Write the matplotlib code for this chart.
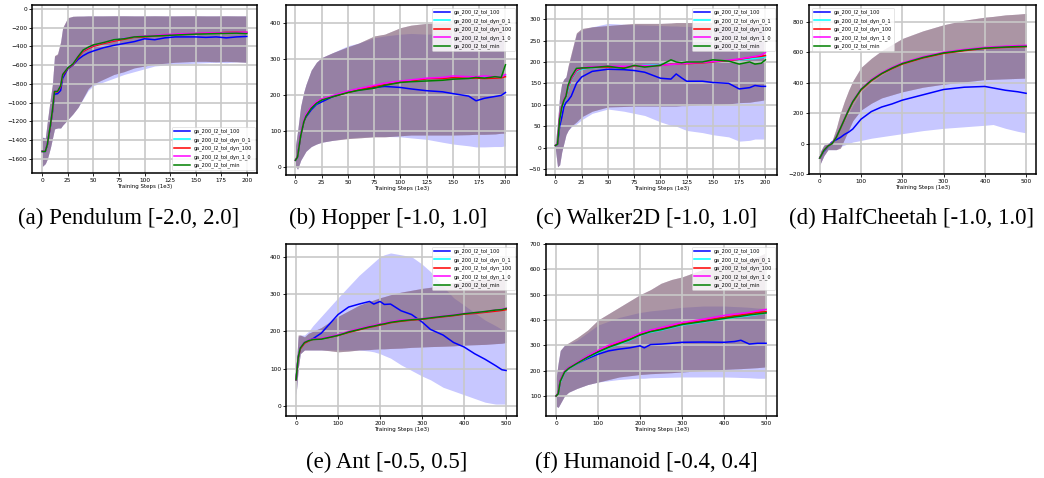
"""
Reward curves for six control tasks: GA runs with different l2 tolerance schedules.
Mean return per run with a shaded +/- band, one panel per environment.
"""

import matplotlib
matplotlib.use("Agg")
import matplotlib.pyplot as plt
import numpy as np

OUT_FILE = "out.png"

LABELS = ["ga_200_l2_tol_100", "ga_200_l2_tol_dyn_0_1", "ga_200_l2_tol_dyn_100",
          "ga_200_l2_tol_dyn_1_0", "ga_200_l2_tol_min"]
COLORS = ["#0000ff", "#00ffff", "#ff0000", "#ff00ff", "#008000"]

# ---------------------------------------------------------------------------
# Data
# ---------------------------------------------------------------------------

# (a) Pendulum
pend_x = [0, 3, 5, 8, 10, 12, 15, 18, 20, 25, 30, 35, 40, 45, 50, 60, 70, 80, 90, 100,
          110, 120, 130, 140, 150, 160, 170, 180, 190, 200]
pend_tol100 = [-1520, -1520, -1450, -1250, -1100, -910, -905, -870, -740, -640, -600, -540, -500, -470, -450,
               -415, -390, -370, -350, -320, -330, -310, -300, -300, -300, -305, -300, -310, -300, -295]
pend_dyn01 = [-1520, -1515, -1440, -1240, -1080, -880, -880, -820, -700, -630, -590, -510, -450, -420, -395,
              -365, -335, -315, -305, -295, -290, -280, -275, -270, -265, -265, -260, -255, -255, -255]
pend_dyn100 = [-1520, -1518, -1445, -1245, -1090, -885, -885, -830, -710, -635, -595, -520, -455, -425, -400,
               -370, -345, -325, -305, -300, -290, -285, -275, -272, -265, -262, -258, -252, -250, -252]
pend_dyn10 = [-1520, -1515, -1440, -1240, -1085, -875, -880, -815, -695, -630, -590, -505, -445, -415, -390,
              -360, -335, -315, -300, -290, -285, -275, -270, -265, -262, -258, -258, -255, -252, -250]
pend_min = [-1520, -1520, -1445, -1240, -1080, -880, -880, -820, -700, -630, -588, -510, -440, -410, -385,
            -360, -330, -320, -300, -295, -290, -285, -280, -275, -270, -268, -265, -262, -260, -265]
pend_dyn_hi = [-1370, -1380, -1200, -950, -800, -500, -480, -350, -200, -95, -80, -78, -78, -76, -76,
               -76, -75, -75, -76, -76, -75, -76, -76, -75, -75, -76, -76, -75, -76, -76]
pend_dyn_lo = [-1680, -1650, -1600, -1480, -1380, -1280, -1270, -1270, -1240, -1180, -1120, -1050, -950, -850, -800,
               -750, -700, -670, -630, -610, -590, -580, -570, -565, -560, -560, -565, -560, -565, -570]
pend_tol100_hi = [-1365, -1375, -1210, -960, -810, -510, -490, -360, -210, -100, -82, -80, -79, -77, -77,
                  -77, -76, -76, -77, -77, -76, -77, -77, -76, -76, -77, -77, -76, -77, -77]
pend_tol100_lo = [-1680, -1650, -1600, -1480, -1380, -1280, -1270, -1270, -1240, -1180, -1120, -1050, -960, -870, -820,
                  -780, -740, -700, -670, -640, -610, -600, -590, -585, -580, -575, -570, -575, -565, -570]

# (b) Hopper
hop_x = [0, 2, 5, 8, 10, 15, 20, 25, 35, 50, 60, 75, 85, 100, 110, 125, 140, 150, 165, 172,
         180, 190, 196, 200]
hop_tol100 = [20, 30, 90, 128, 140, 160, 175, 182, 196, 210, 215, 222, 225, 222, 218, 213, 210, 205, 198, 185,
              192, 197, 200, 208]
hop_dyn01 = [20, 30, 92, 130, 145, 165, 178, 188, 198, 210, 218, 226, 232, 238, 241, 245, 248, 248, 250, 250,
             251, 250, 250, 255]
hop_dyn100 = [20, 31, 90, 128, 143, 166, 180, 189, 197, 208, 216, 225, 230, 237, 240, 246, 247, 249, 248, 248,
              247, 248, 249, 252]
hop_dyn10 = [20, 30, 93, 132, 147, 168, 182, 190, 199, 212, 219, 228, 234, 240, 243, 248, 250, 254, 252, 252,
             254, 252, 251, 258]
hop_min = [20, 29, 88, 127, 142, 164, 178, 187, 196, 208, 214, 220, 228, 236, 238, 240, 242, 245, 247, 250,
           248, 252, 250, 285]
hop_dyn_hi = [60, 100, 170, 210, 230, 270, 292, 305, 318, 335, 345, 365, 370, 388, 395, 400, 402, 410, 412, 410,
              408, 410, 412, 412]
hop_dyn_lo = [5, -5, 20, 35, 45, 58, 65, 70, 75, 80, 82, 85, 85, 88, 90, 90, 90, 90, 91, 92,
              92, 93, 95, 95]
hop_tol100_hi = [60, 100, 170, 210, 230, 270, 292, 305, 318, 338, 345, 360, 365, 370, 372, 370, 372, 375, 370, 365,
                 360, 358, 360, 360]
hop_tol100_lo = [5, -5, 20, 35, 45, 58, 65, 70, 75, 82, 84, 86, 86, 85, 82, 78, 70, 65, 60, 57,
                 57, 58, 58, 60]

# (c) Walker2D
walk_x = [0, 2, 4, 6, 8, 10, 12, 15, 20, 25, 35, 50, 65, 75, 85, 100, 110, 115, 120, 125,
          140, 150, 165, 175, 185, 190, 196, 200]
walk_tol100 = [5, 8, 50, 70, 95, 105, 110, 120, 150, 165, 178, 183, 182, 180, 176, 162, 160, 172, 163, 155,
               155, 152, 150, 137, 140, 145, 143, 143]
walk_dyn01 = [5, 10, 65, 92, 108, 118, 135, 158, 178, 183, 187, 188, 189, 190, 192, 194, 195, 196, 196, 197,
              199, 200, 203, 205, 207, 208, 210, 212]
walk_dyn100 = [5, 9, 68, 95, 110, 120, 140, 160, 180, 185, 188, 188, 188, 190, 190, 192, 195, 195, 196, 196,
               198, 200, 203, 206, 210, 212, 213, 215]
walk_dyn10 = [5, 10, 70, 96, 112, 122, 142, 162, 182, 186, 189, 190, 190, 191, 191, 192, 194, 195, 196, 197,
              199, 201, 204, 207, 211, 213, 216, 222]
walk_min = [5, 8, 66, 94, 110, 120, 145, 165, 185, 186, 187, 190, 185, 192, 188, 192, 205, 200, 198, 200,
            200, 205, 202, 195, 200, 195, 197, 205]
walk_dyn_hi = [10, 60, 120, 150, 160, 165, 190, 220, 268, 278, 282, 285, 288, 290, 290, 290, 291, 292, 292, 292,
               292, 292, 291, 290, 290, 290, 290, 290]
walk_dyn_lo = [-5, -45, -40, -10, 10, 30, 40, 50, 60, 72, 85, 95, 96, 97, 97, 97, 97, 97, 98, 98,
               100, 100, 102, 105, 106, 108, 110, 112]
walk_tol100_hi = [10, 60, 120, 150, 160, 165, 185, 215, 265, 275, 282, 290, 288, 287, 286, 285, 284, 284, 283, 283,
                  283, 282, 282, 281, 281, 280, 280, 280]
walk_tol100_lo = [-5, -45, -40, -10, 10, 30, 40, 48, 55, 65, 80, 90, 85, 80, 75, 60, 52, 50, 45, 40,
                  35, 30, 25, 15, 17, 20, 20, 20]

# (d) HalfCheetah
hc_x = [0, 10, 20, 30, 40, 50, 60, 70, 80, 100, 125, 150, 175, 200, 250, 300, 350, 400, 420, 450, 480, 500]
hc_tol100 = [-95, -50, -20, 10, 25, 40, 60, 75, 95, 160, 210, 240, 260, 285, 320, 355, 370, 375, 365, 350, 340, 330]
hc_dyn01 = [-95, -45, -15, 0, 40, 100, 160, 220, 275, 355, 415, 460, 495, 525, 565, 595, 613, 627, 630, 635, 638, 640]
hc_dyn100 = [-95, -45, -15, 0, 40, 98, 158, 218, 272, 352, 412, 458, 492, 522, 562, 592, 610, 625, 628, 632, 635, 637]
hc_dyn10 = [-95, -45, -15, 2, 42, 102, 163, 223, 278, 358, 420, 465, 500, 530, 570, 600, 618, 632, 635, 640, 643, 645]
hc_min = [-95, -45, -16, 0, 40, 100, 160, 220, 275, 355, 415, 460, 495, 525, 565, 595, 613, 627, 630, 634, 637, 638]
hc_dyn_hi = [-60, -10, 0, 20, 100, 200, 280, 350, 410, 500, 560, 610, 650, 690, 740, 780, 810, 830, 835, 845, 850, 855]
hc_dyn_lo = [-140, -80, -40, -40, -40, -30, 30, 90, 150, 220, 265, 300, 320, 340, 370, 390, 405, 420, 422, 425, 428, 430]
hc_tol100_hi = [-60, -10, 0, 20, 70, 110, 150, 200, 250, 340, 400, 450, 490, 520, 560, 590, 610, 625, 628, 632, 635, 638]
hc_tol100_lo = [-140, -80, -40, -40, -40, -20, -10, 0, 10, 20, 35, 45, 55, 65, 85, 100, 110, 120, 125, 100, 80, 70]

# (e) Ant
ant_x = [0, 5, 10, 20, 30, 40, 60, 80, 100, 125, 150, 175, 185, 200, 210, 225, 250, 275, 300, 320,
         350, 375, 400, 425, 450, 475, 490, 500]
ant_tol100 = [70, 130, 155, 170, 175, 180, 195, 220, 245, 265, 273, 280, 273, 280, 272, 273, 255, 245, 225, 205,
              190, 170, 158, 140, 125, 108, 97, 95]
ant_dyn01 = [70, 130, 155, 170, 175, 178, 180, 185, 190, 198, 205, 212, 214, 218, 220, 224, 228, 231, 233, 235,
             240, 243, 247, 249, 252, 256, 258, 260]
ant_dyn100 = [70, 128, 153, 168, 174, 178, 180, 184, 189, 197, 204, 211, 213, 217, 219, 223, 227, 230, 232, 235,
              239, 242, 246, 248, 251, 254, 256, 258]
ant_dyn10 = [70, 132, 156, 171, 176, 179, 181, 186, 191, 200, 207, 214, 216, 220, 222, 226, 230, 232, 234, 237,
             241, 244, 248, 250, 253, 257, 259, 262]
ant_min = [70, 130, 155, 170, 175, 178, 179, 184, 189, 198, 205, 212, 214, 218, 220, 224, 228, 231, 233, 236,
           240, 243, 247, 250, 253, 257, 258, 261]
ant_dyn_hi = [100, 190, 190, 185, 195, 200, 210, 225, 240, 255, 270, 280, 284, 290, 293, 298, 305, 310, 315, 318,
              325, 330, 335, 337, 340, 342, 344, 345]
ant_dyn_lo = [30, 100, 140, 150, 150, 150, 150, 148, 145, 147, 150, 151, 152, 153, 153, 154, 155, 157, 158, 159,
              160, 161, 163, 164, 165, 167, 168, 170]
ant_tol100_hi = [100, 185, 190, 190, 200, 215, 240, 265, 290, 320, 350, 375, 385, 400, 405, 410, 405, 400, 380, 360,
                 320, 290, 270, 250, 230, 215, 205, 200]
ant_tol100_lo = [30, 100, 140, 150, 150, 150, 150, 150, 150, 150, 150, 147, 145, 140, 135, 128, 110, 95, 80, 70,
                 50, 40, 30, 20, 10, 5, 5, 5]

# (f) Humanoid
hum_x = [0, 5, 10, 20, 30, 50, 75, 100, 125, 150, 175, 200, 210, 225, 250, 275, 300, 350, 400, 425,
         440, 460, 480, 500]
hum_tol100 = [100, 110, 160, 195, 210, 228, 248, 265, 278, 285, 290, 298, 290, 303, 305, 308, 312, 313, 312, 315,
              320, 305, 308, 308]
hum_dyn01 = [100, 108, 155, 192, 208, 228, 252, 272, 290, 305, 320, 340, 345, 352, 360, 370, 380, 392, 405, 410,
             413, 417, 422, 428]
hum_dyn100 = [100, 110, 160, 195, 210, 230, 255, 276, 295, 310, 325, 343, 348, 357, 365, 375, 385, 398, 410, 417,
              420, 425, 430, 433]
hum_dyn10 = [100, 112, 162, 197, 212, 232, 258, 280, 300, 315, 330, 348, 353, 360, 370, 380, 390, 403, 418, 423,
             426, 430, 436, 442]
hum_min = [100, 109, 158, 194, 209, 229, 253, 274, 292, 307, 322, 341, 346, 354, 362, 372, 382, 394, 406, 412,
           415, 420, 424, 428]
hum_dyn_hi = [170, 230, 280, 300, 310, 330, 360, 400, 425, 450, 475, 500, 508, 520, 545, 560, 570, 600, 620, 628,
              633, 640, 650, 665]
hum_dyn_lo = [60, 55, 70, 100, 115, 130, 145, 155, 165, 175, 180, 185, 186, 188, 190, 192, 195, 200, 205, 207,
              208, 210, 212, 215]
hum_tol100_hi = [170, 230, 280, 300, 305, 320, 350, 380, 395, 410, 420, 430, 432, 436, 440, 445, 450, 455, 455, 453,
                 452, 450, 447, 445]
hum_tol100_lo = [60, 55, 70, 100, 115, 130, 145, 155, 160, 165, 168, 170, 170, 172, 173, 174, 175, 175, 175, 174,
                 173, 172, 170, 170]

# ---------------------------------------------------------------------------
# Panel layout (pixel boxes on a 1044x478 canvas: left, top, right, bottom)
# ---------------------------------------------------------------------------

FIG_W, FIG_H = 1044, 478

PANELS = [
    dict(box=(32, 5, 257, 173), caption="(a) Pendulum [-2.0, 2.0]", cap_xy=(129, 218),
         x=pend_x, means=[pend_tol100, pend_dyn01, pend_dyn100, pend_dyn10, pend_min],
         band_tol=(pend_tol100_lo, pend_tol100_hi), band_dyn=(pend_dyn_lo, pend_dyn_hi),
         xlim=(-10, 210), ylim=(-1750, 40), xticks=np.arange(0, 201, 25),
         yticks=np.arange(-1600, 1, 200), legend="lower right"),
    dict(box=(286, 5, 517, 175), caption="(b) Hopper [-1.0, 1.0]", cap_xy=(388, 218),
         x=hop_x, means=[hop_tol100, hop_dyn01, hop_dyn100, hop_dyn10, hop_min],
         band_tol=(hop_tol100_lo, hop_tol100_hi), band_dyn=(hop_dyn_lo, hop_dyn_hi),
         xlim=(-9, 211), ylim=(-21, 451), xticks=np.arange(0, 201, 25),
         yticks=np.arange(0, 401, 100), legend="upper right"),
    dict(box=(546, 5, 777, 175), caption="(c) Walker2D [-1.0, 1.0]", cap_xy=(647, 218),
         x=walk_x, means=[walk_tol100, walk_dyn01, walk_dyn100, walk_dyn10, walk_min],
         band_tol=(walk_tol100_lo, walk_tol100_hi), band_dyn=(walk_dyn_lo, walk_dyn_hi),
         xlim=(-9, 211), ylim=(-64, 333), xticks=np.arange(0, 201, 25),
         yticks=np.arange(-50, 301, 50), legend="upper right"),
    dict(box=(809, 5, 1036, 174), caption="(d) HalfCheetah [-1.0, 1.0]", cap_xy=(912, 218),
         x=hc_x, means=[hc_tol100, hc_dyn01, hc_dyn100, hc_dyn10, hc_min],
         band_tol=(hc_tol100_lo, hc_tol100_hi), band_dyn=(hc_dyn_lo, hc_dyn_hi),
         xlim=(-26, 524), ylim=(-200, 910), xticks=np.arange(0, 501, 100),
         yticks=np.arange(-200, 801, 200), legend="upper left"),
    dict(box=(286, 244, 517, 416), caption="(e) Ant [-0.5, 0.5]", cap_xy=(387, 462),
         x=ant_x, means=[ant_tol100, ant_dyn01, ant_dyn100, ant_dyn10, ant_min],
         band_tol=(ant_tol100_lo, ant_tol100_hi), band_dyn=(ant_dyn_lo, ant_dyn_hi),
         xlim=(-24, 526), ylim=(-27, 434), xticks=np.arange(0, 501, 100),
         yticks=np.arange(0, 401, 100), legend="upper right"),
    dict(box=(546, 244, 777, 416), caption="(f) Humanoid [-0.4, 0.4]", cap_xy=(646, 462),
         x=hum_x, means=[hum_tol100, hum_dyn01, hum_dyn100, hum_dyn10, hum_min],
         band_tol=(hum_tol100_lo, hum_tol100_hi), band_dyn=(hum_dyn_lo, hum_dyn_hi),
         xlim=(-24, 526), ylim=(21, 700), xticks=np.arange(0, 501, 100),
         yticks=np.arange(100, 701, 100), legend="upper right"),
]


def draw_panel(fig, p):
    l, t, r, b = p["box"]
    ax = fig.add_axes([l / FIG_W, 1 - b / FIG_H, (r - l) / FIG_W, (b - t) / FIG_H])

    x = p["x"]
    for i, (mean, color, label) in enumerate(zip(p["means"], COLORS, LABELS)):
        lo, hi = p["band_tol"] if i == 0 else p["band_dyn"]
        ax.fill_between(x, lo, hi, color=color, alpha=0.22, linewidth=0)
        ax.plot(x, mean, color=color, lw=1.1, label=label)

    ax.set_xlim(*p["xlim"])
    ax.set_ylim(*p["ylim"])
    ax.set_xticks(p["xticks"])
    ax.set_yticks(p["yticks"])
    ax.tick_params(labelsize=4.2, length=2, width=0.6, pad=1.5)
    ax.set_xlabel("Training Steps (1e3)", fontsize=4.0, labelpad=1)
    ax.grid(True, color="#c8c8c8", lw=1.2)
    for sp in ax.spines.values():
        sp.set_linewidth(1.1)
        sp.set_color("black")

    leg = ax.legend(loc=p["legend"], fontsize=3.6, handlelength=3.2, borderpad=0.45,
                    labelspacing=0.55, framealpha=0.85, fancybox=True)
    leg.get_frame().set_linewidth(0.4)
    leg.get_frame().set_edgecolor("#cccccc")

    cx, cy = p["cap_xy"]
    fig.text(cx / FIG_W, 1 - cy / FIG_H, p["caption"], ha="center", va="center",
             fontsize=16.5, family="Liberation Serif")


def main():
    fig = plt.figure(figsize=(FIG_W / 100, FIG_H / 100), dpi=100)
    for p in PANELS:
        draw_panel(fig, p)
    fig.savefig(OUT_FILE, dpi=100)
    plt.close(fig)


if __name__ == "__main__":
    main()
